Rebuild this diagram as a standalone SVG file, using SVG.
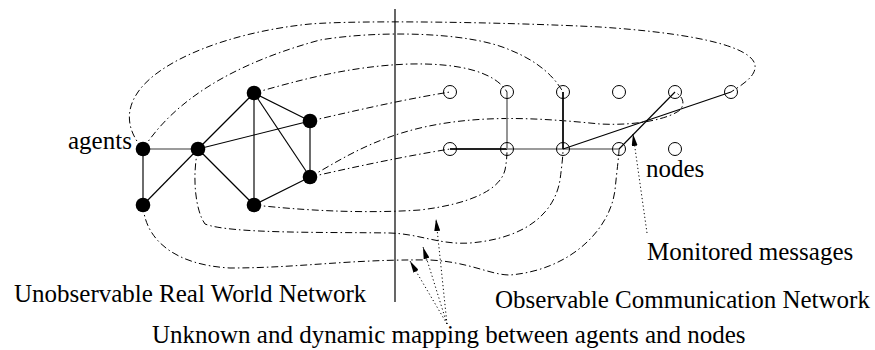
<svg xmlns="http://www.w3.org/2000/svg" width="875" height="350" viewBox="0 0 875 350">
  <style>
    text { font-family: "Liberation Serif", "Times New Roman", serif; font-size: 25px; fill: #000; }
    .map { fill: none; stroke: #000; stroke-width: 1; stroke-dasharray: 7 3 1.5 3; }
    .edge { stroke: #000; stroke-width: 1.15; fill: none; }
    .grey { stroke: #7a7a7a; stroke-width: 1.6; fill: none; }
    .bold { stroke: #222; stroke-width: 2; fill: none; }
    .ptr { fill: none; stroke: #000; stroke-width: 1; stroke-dasharray: 1.2 2.6; }
    .agent { fill: #000; }
    .node { fill: none; stroke: #000; stroke-width: 1; }
  </style>
  <defs>
    <marker id="head" viewBox="0 0 12 6" refX="12" refY="3" markerWidth="12" markerHeight="6" markerUnits="userSpaceOnUse" orient="auto">
      <path d="M0,0 L12,3 L0,6 Z" fill="#000"/>
    </marker>
  </defs>

  <rect width="875" height="350" fill="#fff"/>

  <!-- divider between the two networks -->
  <line x1="395" y1="9" x2="395" y2="302" stroke="#000" stroke-width="1.2"/>

  <!-- dash-dot mapping curves, agent to node -->
  <g id="connectors">
    <path class="map" d="M143,149 C128,132 124,112 138,92 C160,60 230,32 310,24 C360,20 500,22 600,27 C690,33 745,45 754,62 C760,75 740,86 731,92"/>
    <path class="map" d="M143,149 C165,115 210,70 320,40 C380,30 470,32 510,50 C540,62 555,78 563,92"/>
    <path class="map" d="M254,93 C300,80 350,66 410,64 C460,63 495,72 507,92"/>
    <path class="map" d="M310,121 C350,112 400,100 450,92"/>
    <path class="map" d="M310,177 C340,160 370,140 420,128 C480,114 540,118 600,124 C640,126 670,118 680,110 C686,103 682,96 675,92"/>
    <path class="map" d="M310,177 C350,168 400,157 450,149"/>
    <path class="map" d="M254,205 C300,210 360,214 420,210 C470,204 500,190 505,170 C507,160 507,152 507,149"/>
    <path class="map" d="M198,149 C192,175 195,210 205,224 C230,234 330,232 390,233 C420,234 440,245 470,243 C530,238 555,210 560,180 C562,165 563,155 563,149"/>
    <path class="map" d="M143,205 C145,240 175,265 230,268 C300,268 350,259 430,260 C470,262 490,275 510,275 C570,270 610,230 615,190 C617,170 619,155 619,149"/>

    <!-- agent links -->
    <line class="grey" x1="143" y1="149" x2="198" y2="149"/>
    <line class="edge" x1="143" y1="149" x2="143" y2="205"/>
    <line class="edge" x1="143" y1="205" x2="198" y2="149"/>
    <line class="edge" x1="198" y1="149" x2="254" y2="93"/>
    <line class="edge" x1="198" y1="149" x2="310" y2="121"/>
    <line class="edge" x1="198" y1="149" x2="254" y2="205"/>
    <line class="edge" x1="254" y1="93" x2="254" y2="205"/>
    <line class="edge" x1="254" y1="93" x2="310" y2="121"/>
    <line class="edge" x1="254" y1="93" x2="310" y2="177"/>
    <line class="edge" x1="310" y1="121" x2="310" y2="177"/>
    <line class="edge" x1="310" y1="177" x2="254" y2="205"/>

    <!-- observed message links -->
    <line class="bold" x1="450" y1="149" x2="507" y2="149"/>
    <line class="grey" x1="507" y1="149" x2="619" y2="149"/>
    <line class="grey" x1="507" y1="92" x2="507" y2="149"/>
    <line class="bold" x1="563" y1="92" x2="563" y2="149" stroke="#000"/>
    <line class="edge" x1="563" y1="149" x2="731" y2="92"/>
    <line class="edge" x1="619" y1="149" x2="675" y2="92"/>

    <!-- dotted pointers -->
    <line class="ptr" x1="647" y1="233" x2="633" y2="134" marker-end="url(#head)"/>
    <line class="ptr" x1="447" y1="324" x2="410" y2="261" marker-end="url(#head)"/>
    <line class="ptr" x1="447" y1="324" x2="423" y2="247" marker-end="url(#head)"/>
    <line class="ptr" x1="447" y1="324" x2="436" y2="219" marker-end="url(#head)"/>
  </g>

  <!-- agents -->
  <g id="agent-1"><circle class="agent" cx="143" cy="149" r="7.3"/></g>
  <g id="agent-2"><circle class="agent" cx="143" cy="205" r="7.3"/></g>
  <g id="agent-3"><circle class="agent" cx="198" cy="149" r="7.3"/></g>
  <g id="agent-4"><circle class="agent" cx="254" cy="93" r="7.3"/></g>
  <g id="agent-5"><circle class="agent" cx="310" cy="121" r="7.3"/></g>
  <g id="agent-6"><circle class="agent" cx="310" cy="177" r="7.3"/></g>
  <g id="agent-7"><circle class="agent" cx="254" cy="205" r="7.3"/></g>

  <!-- communication nodes -->
  <g id="node-t1"><circle class="node" cx="450" cy="92" r="6.5"/></g>
  <g id="node-t2"><circle class="node" cx="507" cy="92" r="6.5"/></g>
  <g id="node-t3"><circle class="node" cx="563" cy="92" r="6.5"/></g>
  <g id="node-t4"><circle class="node" cx="619" cy="92" r="6.5"/></g>
  <g id="node-t5"><circle class="node" cx="675" cy="92" r="6.5"/></g>
  <g id="node-t6"><circle class="node" cx="731" cy="92" r="6.5"/></g>
  <g id="node-b1"><circle class="node" cx="450" cy="149" r="6.5"/></g>
  <g id="node-b2"><circle class="node" cx="507" cy="149" r="6.5"/></g>
  <g id="node-b3"><circle class="node" cx="563" cy="149" r="6.5"/></g>
  <g id="node-b4"><circle class="node" cx="619" cy="149" r="6.5"/></g>
  <g id="node-b5"><circle class="node" cx="675" cy="149" r="6.5"/></g>

  <!-- labels -->
  <g id="labels">
    <text x="68" y="149">agents</text>
    <text x="646" y="177">nodes</text>
    <text x="647" y="260">Monitored messages</text>
    <text x="14" y="302">Unobservable Real World Network</text>
    <text x="495" y="308">Observable Communication Network</text>
    <text x="152" y="343">Unknown and dynamic mapping between agents and nodes</text>
  </g>
</svg>
